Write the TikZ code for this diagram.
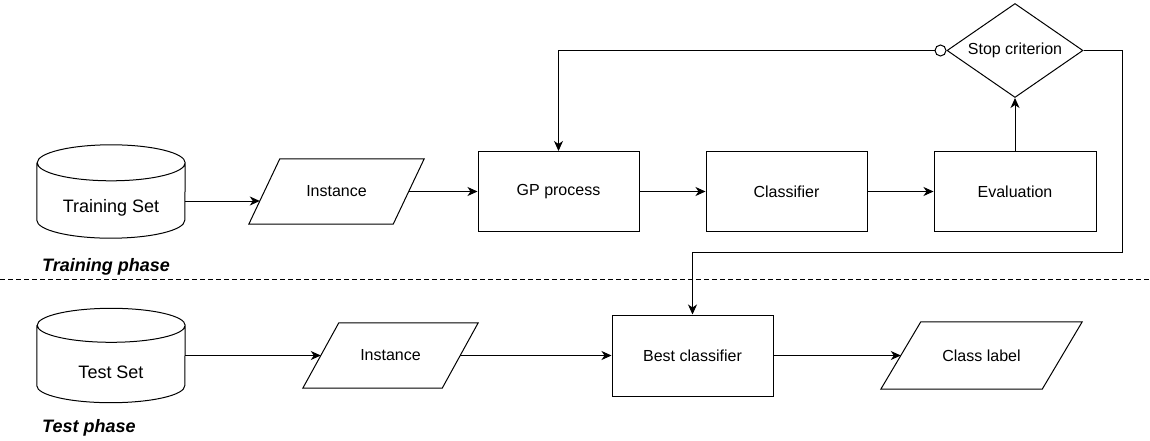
\documentclass[tikz,border=0pt]{standalone}
\usepackage{fontspec}
\setmainfont{Liberation Sans}
\usetikzlibrary{shapes.geometric,arrows.meta}

\tikzset{
  box/.style={draw, line width=1pt, minimum width=161pt, minimum height=80pt, font=\fontsize{16}{19}\selectfont},
  dataio/.style={minimum width=175pt, minimum height=65pt, inner sep=0pt, font=\fontsize{16}{19}\selectfont},
  decision/.style={draw, line width=1pt, diamond, aspect=1.45, minimum width=136pt, minimum height=94pt,
    inner sep=0pt, font=\fontsize{16}{19}\selectfont},
  store/.style={minimum width=148pt, inner sep=0pt},
  storetext/.style={font=\fontsize{18}{21}\selectfont},
  phase/.style={font=\fontsize{18}{21}\selectfont\bfseries\itshape, anchor=west, inner sep=0pt},
  flow/.style={line width=1pt, -{Stealth[length=10pt,width=9pt,inset=3pt]}},
}

\begin{document}
\begin{tikzpicture}[x=1pt,y=-1pt]
\useasboundingbox (0,0) rectangle (1150,441);

% training phase
\node[store, minimum height=93pt, label={[storetext,yshift=-16.5pt]center:Training Set}] (trainset) at (111,191.5) {};
\node[dataio] (traininst) at (336.5,191.5) {Instance};
\node[box] (gp) at (558.5,191.5) {GP process};
\node[box] (classif) at (786.5,191.5) {Classifier};
\node[box, minimum width=162pt] (evalbox) at (1015,191.5) {Evaluation};
\node[decision] (stop) at (1015,50.5) {Stop criterion};
\node[phase] (trainphase) at (42,267) {Training phase};

% test phase
\node[store, minimum height=94pt, label={[storetext,yshift=-17pt]center:Test Set}] (testset) at (111,355.5) {};
\node[dataio] (testinst) at (390.5,355.5) {Instance};
\node[box, minimum height=81pt] (best) at (692.5,355.5) {Best classifier};
\node[dataio, minimum width=201pt, minimum height=67pt] (classlabel) at (981.5,355.5) {Class label};
\node[phase] (testphase) at (42,428) {Test phase};

% cylinders
\foreach \n/\r in {trainset/18, testset/17}
  \draw[line width=1pt] ([yshift=-\r pt]\n.north west) -- ([yshift=\r pt]\n.south west)
    arc[start angle=180, end angle=360, x radius=74pt, y radius=\r pt]
    -- ([yshift=-\r pt]\n.north east)
    arc[start angle=0, end angle=180, x radius=74pt, y radius=\r pt]
    arc[start angle=180, end angle=360, x radius=74pt, y radius=\r pt];

% parallelograms
\foreach \n/\o in {traininst/31, testinst/36, classlabel/40}
  \draw[line width=1pt] ([xshift=\o pt]\n.north west) -- (\n.north east)
    -- ([xshift=-\o pt]\n.south east) -- (\n.south west) -- cycle;

% separator
\draw[line width=1pt, dash pattern=on 4.5pt off 3.5pt] (0,279.5) -- (1150,279.5);

% connectors
\draw[flow] ([yshift=-9.5pt]trainset.east) -- ([xshift=11pt,yshift=-9.5pt]traininst.west);
\draw[flow] ([xshift=-15.5pt]traininst.east) -- (gp.west);
\draw[flow] (gp) -- (classif);
\draw[flow] (classif) -- (evalbox);
\draw[flow] (evalbox) -- (stop);
\draw[flow, {Circle[open,length=12pt]}-{Stealth[length=10pt,width=9pt,inset=3pt]}] (stop.west) -| (gp.north);
\coordinate (turn) at (1122,252);
\draw[flow] (stop.east) -| (turn) -| (best.north);
\draw[flow] (testset.east) -- ([xshift=18pt]testinst.west);
\draw[flow] ([xshift=-18pt]testinst.east) -- (best.west);
\draw[flow] (best.east) -- ([xshift=20pt]classlabel.west);
\end{tikzpicture}
\end{document}
